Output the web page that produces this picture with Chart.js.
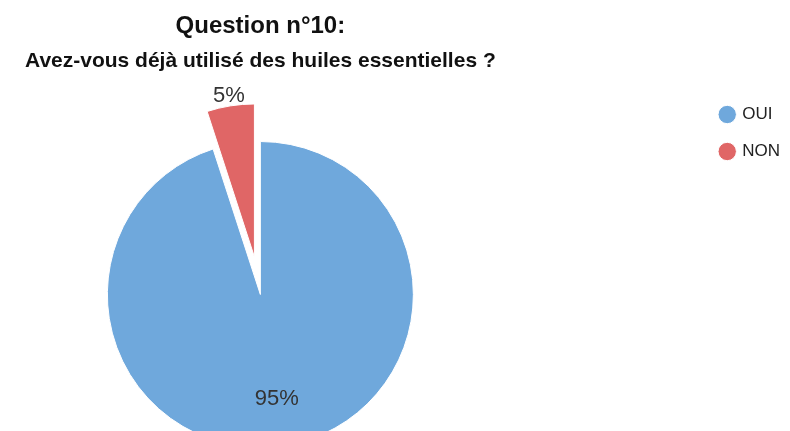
<!DOCTYPE html>
<html>
<head>
<meta charset="utf-8">
<script src="https://cdn.jsdelivr.net/npm/chart.js@4.4.1/dist/chart.umd.min.js"></script>
<style>
  html, body { margin: 0; padding: 0; background: #fff; overflow: hidden; }
  #wrap { position: relative; width: 790px; height: 431px; overflow: hidden; }
  /* the pie sits left of centre and runs off the bottom edge in the original */
  #pieChart { position: absolute; left: -180px; top: 0; }
</style>
</head>
<body>
<div id="wrap">
  <canvas id="pieChart" width="970" height="503"></canvas>
</div>
<script>
// Survey answers
const answerLabels = ["OUI", "NON"];
const answerValues = [95, 5];
const sliceColors = ["#6fa8dc", "#e06666"];

const titleText = "Question n°10:";
const subtitleText = "Avez-vous déjà utilisé des huiles essentielles ?";
const fontFamily = "'Liberation Sans', Arial, sans-serif";

// how far each slice is pulled out of the pie (px)
const explode = [0, 38];

// Chart.js' own "offset" also narrows and enlarges the arc, so the
// slice centre is moved instead and the wedge keeps its real angle
const explodeSlices = {
  id: "explodeSlices",
  beforeDatasetsDraw(chart) {
    const area = chart.chartArea;
    const cx = (area.left + area.right) / 2;
    const cy = (area.top + area.bottom) / 2;
    chart.getDatasetMeta(0).data.forEach((arc, i) => {
      const mid = (arc.startAngle + arc.endAngle) / 2;
      arc.x = cx + Math.cos(mid) * explode[i];
      arc.y = cy + Math.sin(mid) * explode[i];
    });
  }
};

// draws the percentage of each slice (outside when the slice is pulled out)
const percentLabels = {
  id: "percentLabels",
  afterDatasetsDraw(chart) {
    const ctx = chart.ctx;
    const meta = chart.getDatasetMeta(0);
    const total = answerValues.reduce((a, b) => a + b, 0);
    ctx.save();
    ctx.font = "22px " + fontFamily;
    ctx.fillStyle = "#333";
    ctx.textAlign = "center";
    ctx.textBaseline = "middle";
    meta.data.forEach((arc, i) => {
      const p = arc.getProps(["x", "y", "startAngle", "endAngle", "outerRadius"], true);
      const mid = (p.startAngle + p.endAngle) / 2;
      const r = explode[i] > 0 ? p.outerRadius + 10 : p.outerRadius * 0.69;
      const pct = Math.round(answerValues[i] / total * 100) + "%";
      ctx.fillText(pct, p.x + Math.cos(mid) * r, p.y + Math.sin(mid) * r);
    });
    ctx.restore();
  }
};

const ctx = document.getElementById("pieChart").getContext("2d");
new Chart(ctx, {
  type: "pie",
  data: {
    labels: answerLabels,
    datasets: [
      {
        data: answerValues,
        backgroundColor: sliceColors,
        borderColor: "#ffffff",
        borderWidth: 1,
        radius: 153,
      },
    ],
  },
  options: {
    responsive: false,
    animation: false,
    devicePixelRatio: 1,
    plugins: {
      title: {
        display: true,
        text: titleText,
        fullSize: false,
        color: "#111",
        font: {family: fontFamily, size: 24, weight: "bold"},
        padding: {top: 12, bottom: 0},
      },
      subtitle: {
        display: true,
        text: subtitleText,
        fullSize: false,
        color: "#111",
        font: {family: fontFamily, size: 21, weight: "bold"},
        padding: {top: 8, bottom: 12},
      },
      legend: {
        position: "right",
        align: "start",
        fullSize: false,
        labels: {
          usePointStyle: true,
          pointStyle: "circle",
          boxWidth: 13,
          boxHeight: 13,
          padding: 20,
          color: "#222",
          font: {family: fontFamily, size: 17},
        },
      },
      tooltip: {enabled: false},
    },
  },
  plugins: [explodeSlices, percentLabels],
});
</script>
</body>
</html>
